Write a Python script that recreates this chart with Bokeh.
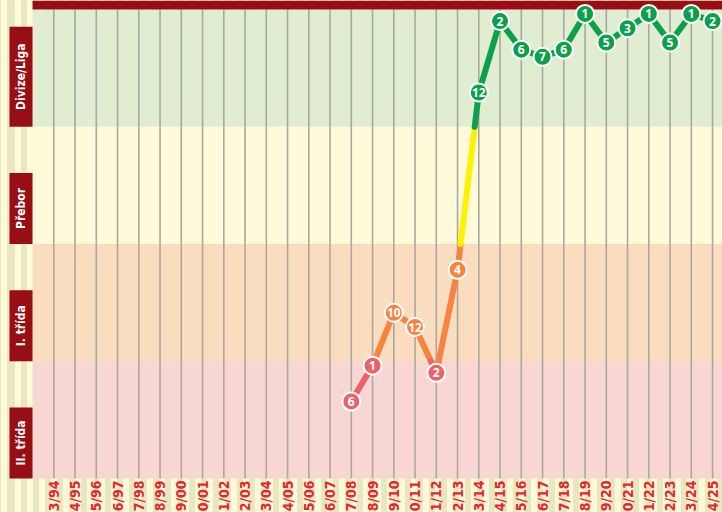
import math
from bokeh.plotting import figure
from bokeh.models import Range1d
from bokeh.core.properties import value
from bokeh.embed import file_html
from bokeh.resources import INLINE

# ---------------- data ----------------
seasons = ["93/94", "94/95", "95/96", "96/97", "97/98", "98/99", "99/00", "00/01",
           "01/02", "02/03", "03/04", "04/05", "05/06", "06/07", "07/08", "08/09",
           "09/10", "10/11", "11/12", "12/13", "13/14", "14/15", "15/16", "16/17",
           "17/18", "18/19", "19/20", "20/21", "21/22", "22/23", "23/24", "24/25"]

league_names = ["Divize/Liga", "Přebor", "I. třída", "II. třída"]   # top -> bottom

played = ["07/08", "08/09", "09/10", "10/11", "11/12", "12/13", "13/14", "14/15",
          "15/16", "16/17", "17/18", "18/19", "19/20", "20/21", "21/22", "22/23",
          "23/24", "24/25"]
levels = ["II. třída", "II. třída", "I. třída", "I. třída", "II. třída", "I. třída",
          "Divize/Liga", "Divize/Liga", "Divize/Liga", "Divize/Liga", "Divize/Liga",
          "Divize/Liga", "Divize/Liga", "Divize/Liga", "Divize/Liga", "Divize/Liga",
          "Divize/Liga", "Divize/Liga"]
places = [6, 1, 10, 12, 2, 4, 12, 2, 6, 7, 6, 1, 5, 3, 1, 5, 1, 2]

# ---------------- styles ----------------
BAND = 16.0
NB = len(league_names)
band_fill = ["#e0edd1", "#fffbda", "#fadcbe", "#f8d6d4"]
mark_col = ["#0ca04a", "#fff200", "#f6843f", "#ea6467"]
RED = "#990e15"
NARROW = value("'Liberation Sans Narrow', 'DejaVu Sans Condensed', 'Roboto Condensed', sans-serif")

X0, X1 = -2.508, 31.468
Y0, Y1 = -4.64, 65.228


def band_of(level):
    return league_names.index(level)


def ypos(level, place):
    b = band_of(level)
    return (NB - b) * BAND - (0.975 * place - 0.37)


xs = [seasons.index(s) for s in played]
ys = [ypos(l, pl) for l, pl in zip(levels, places)]
pcol = [mark_col[band_of(l)] for l in levels]

p = figure(width=722, height=512, output_backend="svg", toolbar_location=None,
           x_range=Range1d(X0, X1), y_range=Range1d(Y0, Y1),
           x_axis_location=None, y_axis_location=None,
           min_border_left=0, min_border_right=0, min_border_top=0, min_border_bottom=0)
p.grid.visible = False
p.outline_line_color = None
p.background_fill_color = None
p.border_fill_color = None
p.styles = {
    "background-image": "repeating-linear-gradient(90deg, #e9e7bf 0px, #e9e7bf 6px, #fdfad9 6px, #fdfad9 12px)",
    "background-position": "9px 0px",
}

# league bands
for b in range(NB):
    bottom = (NB - 1 - b) * BAND
    p.quad(left=-1.0, right=X1, bottom=bottom, top=bottom + BAND,
           fill_color=band_fill[b], line_color=None)

# vertical grid lines at each season
p.segment(x0=list(range(len(seasons))), y0=[0] * len(seasons),
          x1=list(range(len(seasons))), y1=[NB * BAND] * len(seasons),
          line_color="#aaa8a0", line_width=1.6)

# top banner
p.quad(left=-1.0, right=X1, bottom=NB * BAND, top=Y1, fill_color=RED, line_color=None)

# line segments coloured by the band they pass through
sx0, sy0, sx1, sy1, scol = [], [], [], [], []
for i in range(len(xs) - 1):
    xa, ya, xb, yb = xs[i], ys[i], xs[i + 1], ys[i + 1]
    ts = [0.0, 1.0]
    for k in range(1, NB):
        yk = k * BAND
        if (ya - yk) * (yb - yk) < 0:
            ts.append((yk - ya) / (yb - ya))
    ts.sort()
    for t0, t1 in zip(ts[:-1], ts[1:]):
        pa = (xa + (xb - xa) * t0, ya + (yb - ya) * t0)
        pb = (xa + (xb - xa) * t1, ya + (yb - ya) * t1)
        ym = (pa[1] + pb[1]) / 2
        b = NB - 1 - int(ym // BAND)
        sx0.append(pa[0]); sy0.append(pa[1]); sx1.append(pb[0]); sy1.append(pb[1])
        scol.append(mark_col[b])
p.segment(x0=sx0, y0=sy0, x1=sx1, y1=sy1, line_color=scol, line_width=6, line_cap="round")

# markers
p.scatter(xs, ys, size=18, fill_color=pcol, line_color="white", line_width=2)
p.text(xs, ys, text=[str(v) for v in places], text_color="white",
       text_font=value("Open Sans"), text_font_style="bold", text_font_size="12px",
       text_align="center", text_baseline="middle")

# league boxes on the left
box_h = {"Divize/Liga": 13.65}
for b, name in enumerate(league_names):
    bottom = (NB - 1 - b) * BAND
    h = box_h.get(name, 9.7)
    p.quad(left=-2.085, right=-1.0, bottom=bottom, top=bottom + h, fill_color=RED, line_color=None)
    p.text([-1.54], [bottom + h / 2], text=[name], angle=math.pi / 2, text_color="white",
           text_font=NARROW, text_font_style="bold", text_font_size="12px",
           text_align="center", text_baseline="middle")

# season labels
p.text(list(range(len(seasons))), [-0.27] * len(seasons), text=seasons, angle=math.pi / 2,
       text_color="#e52530", text_font=NARROW, text_font_style="bold", text_font_size="14px",
       text_align="right", text_baseline="middle")

open("out.html", "w").write(file_html(p, INLINE))
